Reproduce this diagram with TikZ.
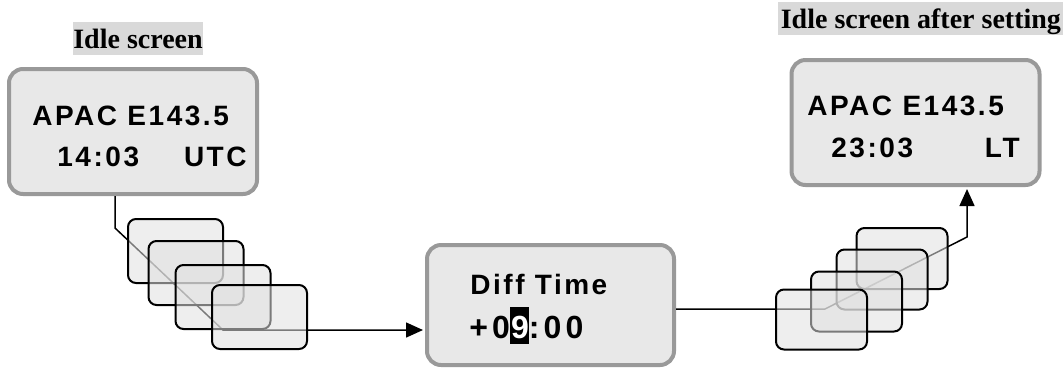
\documentclass[tikz,border=0pt]{standalone}
\usepackage{fontspec}
\setmainfont{Liberation Serif}
\newfontfamily\lcdfont[LetterSpace=9]{Liberation Sans}
\newfontfamily\lcdwide[LetterSpace=13]{Liberation Sans}
\usetikzlibrary{arrows.meta}
\definecolor{lcdfill}{HTML}{E8E8E8}
\definecolor{lcdrim}{HTML}{999999}
\definecolor{tagfill}{HTML}{D9D9D9}
\definecolor{cardfill}{HTML}{E0E0E0}
\newcommand{\cursordigit}[1]{{\setlength{\fboxsep}{0pt}\colorbox{black}{\rule[-3pt]{0pt}{18.3pt}\hspace{0.5pt}\textcolor{white}{#1}}}}

\begin{document}
\begin{tikzpicture}[x=0.5pt, y=-0.5pt,
    screen/.style={rectangle, rounded corners=7pt, draw=lcdrim, line width=2pt,
                   fill=lcdfill, minimum width=124pt, minimum height=62.5pt},
    card/.style={rectangle, rounded corners=4pt, draw, line width=1pt, fill=cardfill,
                 fill opacity=0.55, minimum width=47.5pt, minimum height=32pt},
    lcd/.style={inner sep=0pt, font=\lcdfont\bfseries\fontsize{14}{16}\selectfont},
    tag/.style={fill=tagfill, inner sep=0pt, text height=13pt, text depth=3.5pt,
                font=\bfseries\fontsize{14}{16}\selectfont},
    arr/.style={-{Triangle[length=8.5pt,width=7.5pt]}, line width=0.75pt}
]
    \useasboundingbox (0,0) rectangle (1063,371);

    % screens
    \node[screen] (idle) at (133,131.5) {};
    \node[screen, minimum width=123.5pt, minimum height=60pt] (diff) at (550.5,305) {};
    \node[screen] (after) at (915.5,122.5) {};

    \node[tag, anchor=base] (idletag) at (138,48) {Idle screen};
    \node[tag, anchor=base west, minimum width=142.5pt] (aftertag) at (778,28) {Idle screen after setting};

    \node[lcd, anchor=base west] (idleA) at (32,125) {APAC E143.5};
    \node[lcd, anchor=base west] (idleB) at (57,166) {14:03};
    \node[lcd, anchor=base east] (idleC) at (247,166) {UTC};

    \node[lcd, anchor=base west] (diffA) at (470,294) {Diff Time};
    \node[lcd, anchor=base west, font=\lcdwide\bfseries\fontsize{16}{18}\selectfont]
        (diffB) at (469,338) {+0\cursordigit{9}:00};

    \node[lcd, anchor=base west] (afterA) at (807,115) {APAC E143.5};
    \node[lcd, anchor=base west] (afterB) at (831,157) {23:03};
    \node[lcd, anchor=base east] (afterC) at (1020,157) {LT};

    % connectors
    \coordinate (dropL) at (115,228);
    \coordinate (kneeL) at (223,330);
    \coordinate (kneeR) at (825,309);
    \coordinate (riseR) at (967,237);
    \draw[arr, shorten >=1pt] (idle.south -| dropL) -- (dropL) -- (kneeL) -- (kneeL -| diff.west);
    \draw[arr, shorten >=1pt] (diff.east |- kneeR) -- (kneeR) -- (riseR) -- (riseR |- after.south);

    % scrolling screens
    \node[card] (scrollA) at (175.5,251) {};
    \node[card] (scrollB) at (196,273) {};
    \node[card] (scrollC) at (223,297) {};
    \node[card] (scrollD) at (259.5,317) {};

    \node[card, minimum width=45.5pt, minimum height=30.5pt] (backD) at (902,258.5) {};
    \node[card, minimum width=45.5pt, minimum height=30pt] (backC) at (882,279.5) {};
    \node[card, minimum width=45.5pt, minimum height=30pt] (backB) at (856.5,301.5) {};
    \node[card, minimum width=45.5pt, minimum height=30pt] (backA) at (821.5,319.5) {};
\end{tikzpicture}
\end{document}
